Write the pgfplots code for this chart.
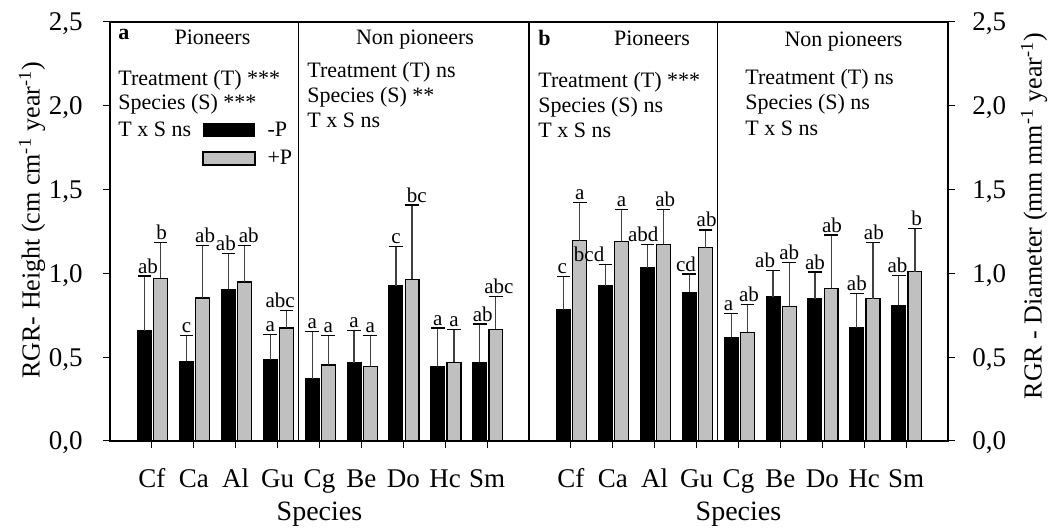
\documentclass[border=0pt]{standalone}
\usepackage{pgfplots}
\pgfplotsset{compat=1.18}
\usepackage{pgfplotstable}
\usepackage{fontspec}
\setmainfont{Liberation Serif}

\definecolor{barP}{RGB}{192,192,192}

% Relative growth rate in height: mean, error, letter group, label shift
\pgfplotstableread{
x y     e     lab dx
1 0.658 0.326 ab  0.08
2 0.476 0.154 c   0
3 0.905 0.213 ab  -0.06
4 0.485 0.151 a   0
5 0.370 0.282 a   0
6 0.467 0.191 a   0
7 0.927 0.232 c   0
8 0.446 0.228 a   0
9 0.470 0.228 ab  0.07
}\heightMinus
\pgfplotstableread{
x y     e     lab dx
1 0.971 0.212 b   0.02
2 0.853 0.315 ab  0.06
3 0.949 0.219 ab  0.1
4 0.674 0.106 abc -0.15
5 0.453 0.177 a   0
6 0.446 0.182 a   0
7 0.965 0.443 bc  0.11
8 0.470 0.196 a   0
9 0.666 0.195 abc 0.07
}\heightPlus
% Relative growth rate in diameter
\pgfplotstableread{
x y     e     lab dx
1 0.782 0.198 c   -0.03
2 0.925 0.129 bcd -0.39
3 1.032 0.142 abd -0.1
4 0.887 0.109 cd  -0.08
5 0.619 0.143 a   -0.06
6 0.859 0.157 ab  -0.19
7 0.847 0.161 ab  0
8 0.676 0.205 ab  0
9 0.810 0.179 ab  -0.03
}\diamMinus
\pgfplotstableread{
x y     e     lab dx
1 1.195 0.227 a   0
2 1.191 0.189 a   0
3 1.174 0.206 ab  0.04
4 1.153 0.106 ab  0.03
5 0.649 0.167 ab  0.04
6 0.804 0.260 ab  0
7 0.911 0.318 ab  0.02
8 0.849 0.337 ab  0.02
9 1.010 0.259 b   0.04
}\diamPlus

\newcommand\ticksize{\fontsize{13.5}{15}\selectfont}
\newcommand\txtsize{\fontsize{11}{13}\selectfont}
\newcommand\letsize{\fontsize{10.5}{12}\selectfont}

\pgfplotsset{
  panel/.style={
    scale only axis, width=209.5pt, height=209.5pt,
    xmin=0, xmax=10, ymin=0, ymax=2.5,
    xtick={1,...,9}, xticklabels={Cf,Ca,Al,Gu,Cg,Be,Do,Hc,Sm},
    ytick={0,0.5,1,1.5,2,2.5},
    tick align=outside, major tick length=3.5pt,
    xtick pos=left,
    tick style={black, line width=0.5pt},
    axis line style={line width=0.6pt},
    clip=false,
    ticklabel style={font=\ticksize},
    yticklabel={\pgfmathprintnumber[fixed,fixed zerofill,precision=1,use comma,assume math mode=true]{\tick}},
    xticklabel style={inner sep=0pt, text height=9.5pt, text depth=0pt, yshift=-10pt},
    xlabel={Species},
    xlabel style={font=\fontsize{14}{16}\selectfont, at={(axis description cs:0.5,-0.1909)}, anchor=base, inner sep=0pt},
    ylabel style={font=\fontsize{13}{15}\selectfont, inner sep=0pt, anchor=south},
  },
  minusbar/.style={ybar, bar width=0.33, bar shift=0pt, fill=black, draw=black, line width=0.6pt,
    error bars/.cd, y dir=plus, y explicit,
    error bar style={line width=0.6pt, draw=black!75},
    error mark options={line width=0.6pt, black, mark size=3.4pt, rotate=90}},
  plusbar/.style={ybar, bar width=0.33, bar shift=0pt, fill=barP, draw=black, line width=0.6pt,
    error bars/.cd, y dir=plus, y explicit,
    error bar style={line width=0.6pt, draw=black!75},
    error mark options={line width=0.6pt, black, mark size=3.4pt, rotate=90}},
  letters/.style={draw=none, mark=none, nodes near coords, point meta=explicit symbolic,
    nodes near coords style={anchor=south, inner sep=1.2pt, font=\letsize, text=black}},
}

\begin{document}
\begin{tikzpicture}
% Panel a: height
\begin{axis}[panel, name=pa, at={(0,0)}, anchor=south west,
  ytick pos=left, yticklabel pos=left,
  yticklabel style={inner sep=0pt, text depth=0pt, xshift=-10pt},
  ylabel={RGR- Height (cm cm\textsuperscript{-1} year\textsuperscript{-1})},
  ylabel style={at={(axis description cs:-0.1537,0.527)}},
]
\addplot[minusbar] table[x expr=\thisrow{x}-0.175, y=y, y error=e] \heightMinus;
\addplot[plusbar] table[x expr=\thisrow{x}+0.21, y=y, y error=e] \heightPlus;
\addplot[letters] table[x expr=\thisrow{x}-0.175+\thisrow{dx}, y expr=\thisrow{y}+\thisrow{e}, meta=lab] \heightMinus;
\addplot[letters] table[x expr=\thisrow{x}+0.21+\thisrow{dx}, y expr=\thisrow{y}+\thisrow{e}, meta=lab] \heightPlus;
\draw[line width=0.6pt] (axis cs:4.5,0) -- (axis cs:4.5,2.5);
\node[anchor=base west, inner sep=0pt, font=\txtsize\bfseries] at (axis cs:0.19,2.393) {a};
\node[anchor=base, inner sep=0pt, font=\txtsize] at (axis cs:2.446,2.363) {Pioneers};
\node[anchor=base west, inner sep=0pt, font=\txtsize] at (axis cs:0.19,2.124) {Treatment (T) ***};
\node[anchor=base west, inner sep=0pt, font=\txtsize] at (axis cs:0.19,1.975) {Species (S) ***};
\node[anchor=base west, inner sep=0pt, font=\txtsize] at (axis cs:0.19,1.814) {T x S ns};
\fill[black] (axis cs:2.22,1.814) rectangle (axis cs:3.46,1.897);
\filldraw[fill=barP, draw=black, line width=0.6pt] (axis cs:2.22,1.647) rectangle (axis cs:3.46,1.724);
\node[anchor=base west, inner sep=0pt, font=\txtsize] at (axis cs:3.75,1.814) {-P};
\node[anchor=base west, inner sep=0pt, font=\txtsize] at (axis cs:3.75,1.647) {+P};
\node[anchor=base, inner sep=0pt, font=\txtsize] at (axis cs:7.28,2.363) {Non pioneers};
\node[anchor=base west, inner sep=0pt, font=\txtsize] at (axis cs:4.70,2.166) {Treatment (T) ns};
\node[anchor=base west, inner sep=0pt, font=\txtsize] at (axis cs:4.70,2.017) {Species (S) **};
\node[anchor=base west, inner sep=0pt, font=\txtsize] at (axis cs:4.70,1.868) {T x S ns};
\end{axis}

% Panel b: diameter
\begin{axis}[panel, name=pb, at={(209.5pt,0)}, anchor=south west,
  ytick pos=right, yticklabel pos=right,
  yticklabel style={inner sep=0pt, text depth=0pt, xshift=8.5pt},
  ylabel={RGR - Diameter (mm mm\textsuperscript{-1} year\textsuperscript{-1})},
  ylabel style={at={(axis description cs:1.2377,0.537)}, rotate=0},
]
\addplot[minusbar] table[x expr=\thisrow{x}-0.175, y=y, y error=e] \diamMinus;
\addplot[plusbar] table[x expr=\thisrow{x}+0.21, y=y, y error=e] \diamPlus;
\addplot[letters] table[x expr=\thisrow{x}-0.175+\thisrow{dx}, y expr=\thisrow{y}+\thisrow{e}, meta=lab] \diamMinus;
\addplot[letters] table[x expr=\thisrow{x}+0.21+\thisrow{dx}, y expr=\thisrow{y}+\thisrow{e}, meta=lab] \diamPlus;
\draw[line width=0.6pt] (axis cs:4.5,0) -- (axis cs:4.5,2.5);
\node[anchor=base west, inner sep=0pt, font=\txtsize\bfseries] at (axis cs:0.215,2.357) {b};
\node[anchor=base, inner sep=0pt, font=\txtsize] at (axis cs:2.935,2.357) {Pioneers};
\node[anchor=base west, inner sep=0pt, font=\txtsize] at (axis cs:0.215,2.112) {Treatment (T) ***};
\node[anchor=base west, inner sep=0pt, font=\txtsize] at (axis cs:0.215,1.957) {Species (S) ns};
\node[anchor=base west, inner sep=0pt, font=\txtsize] at (axis cs:0.215,1.808) {T x S ns};
\node[anchor=base, inner sep=0pt, font=\txtsize] at (axis cs:7.506,2.351) {Non pioneers};
\node[anchor=base west, inner sep=0pt, font=\txtsize] at (axis cs:5.155,2.130) {Treatment (T) ns};
\node[anchor=base west, inner sep=0pt, font=\txtsize] at (axis cs:5.155,1.975) {Species (S) ns};
\node[anchor=base west, inner sep=0pt, font=\txtsize] at (axis cs:5.155,1.820) {T x S ns};
\end{axis}

\pgfresetboundingbox
\path[use as bounding box] (-55pt,-44pt) rectangle (470pt,220.5pt);
\end{tikzpicture}
\end{document}
